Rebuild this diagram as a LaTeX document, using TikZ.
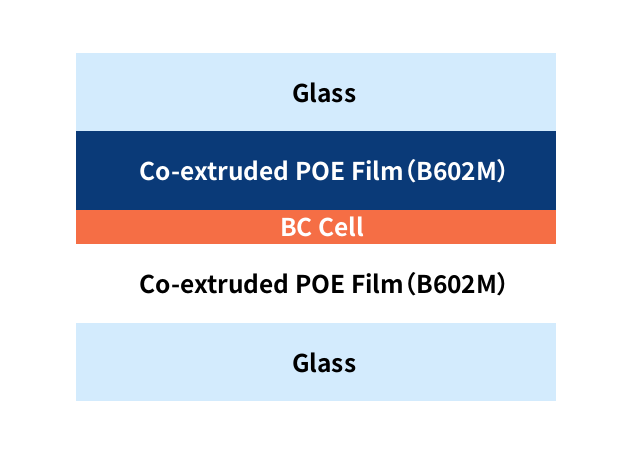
\documentclass[tikz,border=0pt]{standalone}
\usepackage{fontspec}
\setmainfont{Noto Sans CJK SC}[BoldFont={* Bold},RawFeature=+palt]
\definecolor{glass}{HTML}{D3EBFD}
\definecolor{poe}{HTML}{0A3A78}
\definecolor{cell}{HTML}{F56E45}
\begin{document}
\begin{tikzpicture}[x=1pt,y=-1pt,
  layer/.style={draw=none,anchor=north west,inner sep=0pt,minimum width=480pt},
  lbl/.style={font=\fontsize{24.5}{28}\selectfont\bfseries,anchor=base,inner sep=0pt}]
\useasboundingbox (0,0) rectangle (640,456);
\node[layer,fill=glass,minimum height=78pt] (g1) at (76,53) {};
\node[layer,fill=poe,minimum height=79pt] (p1) at (76,131) {};
\node[layer,fill=cell,minimum height=34pt] (c) at (76,210) {};
\node[layer,minimum height=79pt] (p2) at (76,244) {};
\node[layer,fill=glass,minimum height=78pt] (g2) at (76,323) {};
\node[lbl,text=black] (t1) at ([xshift=8pt,yshift=-10pt]g1.center) {Glass};
\node[lbl,text=white] (t2) at ([xshift=8.5pt,yshift=-10pt]p1.center) {Co-extruded POE Film（B602M）};
\node[lbl,text=white] (t3) at ([xshift=6pt,yshift=-9.3pt]c.center) {BC Cell};
\node[lbl,text=black] (t4) at ([xshift=8.5pt,yshift=-10pt]p2.center) {Co-extruded POE Film（B602M）};
\node[lbl,text=black] (t5) at ([xshift=8pt,yshift=-10pt]g2.center) {Glass};
\end{tikzpicture}
\end{document}
